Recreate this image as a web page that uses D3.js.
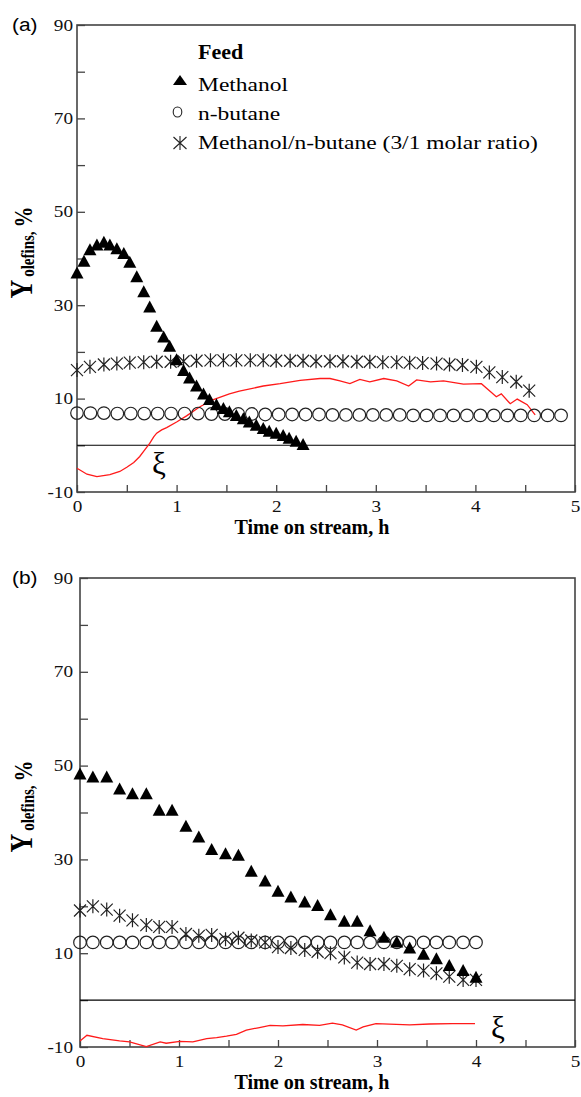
<!DOCTYPE html>
<html>
<head>
<meta charset="utf-8">
<script src="https://cdn.jsdelivr.net/npm/d3@7"></script>
<style>
  body { margin: 0; background: #fff; }
  svg { display: block; background: #fff; }
</style>
</head>
<body>
<svg id="chart" width="581" height="1097"></svg>
<script>
// ---- Panel (a) data ----
const methanolTimeA = [0, 0.07, 0.13, 0.2, 0.27, 0.33, 0.4, 0.47, 0.53, 0.6, 0.67, 0.73, 0.8, 0.87, 0.93, 1.0, 1.07, 1.13, 1.2, 1.27, 1.33, 1.4, 1.47, 1.53, 1.6, 1.67, 1.73, 1.8, 1.87, 1.93, 2.0, 2.07, 2.13, 2.2, 2.27];
const methanolA = [37.0, 39.5, 42.0, 43.0, 43.6, 43.0, 42.2, 41.2, 39.3, 36.2, 33.0, 29.7, 25.6, 23.3, 21.3, 18.4, 16.1, 14.5, 12.8, 11.1, 9.9, 8.8, 8.0, 7.3, 6.5, 5.8, 5.1, 4.4, 3.7, 3.1, 2.7, 2.2, 1.6, 1.0, 0.3];

const butaneTimeA = [0, 0.135, 0.27, 0.405, 0.54, 0.675, 0.81, 0.945, 1.08, 1.215, 1.35, 1.485, 1.62, 1.755, 1.89, 2.025, 2.16, 2.295, 2.43, 2.565, 2.7, 2.835, 2.97, 3.105, 3.24, 3.375, 3.51, 3.645, 3.78, 3.915, 4.05, 4.185, 4.32, 4.455, 4.59, 4.725, 4.86];
const butaneA = [6.9, 6.9, 6.9, 6.8, 6.8, 6.8, 6.8, 6.8, 6.8, 6.8, 6.7, 6.7, 6.7, 6.7, 6.6, 6.6, 6.6, 6.6, 6.6, 6.5, 6.5, 6.5, 6.5, 6.5, 6.5, 6.4, 6.4, 6.4, 6.4, 6.4, 6.4, 6.4, 6.4, 6.4, 6.4, 6.4, 6.4];

const mixTimeA = [0, 0.13, 0.27, 0.4, 0.53, 0.67, 0.8, 0.94, 1.07, 1.2, 1.34, 1.47, 1.6, 1.74, 1.87, 2.0, 2.14, 2.27, 2.4, 2.54, 2.67, 2.81, 2.94, 3.07, 3.21, 3.34, 3.47, 3.61, 3.74, 3.87, 4.01, 4.14, 4.27, 4.41, 4.54];
const mixA = [16.1, 16.8, 17.3, 17.5, 17.7, 17.8, 17.9, 17.9, 18.0, 18.1, 18.2, 18.2, 18.2, 18.2, 18.2, 18.1, 18.1, 18.1, 18.0, 18.0, 18.0, 17.9, 17.9, 17.8, 17.8, 17.7, 17.6, 17.5, 17.3, 17.2, 16.8, 15.6, 14.6, 13.6, 11.7];

const xiTimeA = [0, 0.1, 0.2, 0.33, 0.43, 0.5, 0.57, 0.63, 0.68, 0.73, 0.77, 0.8, 0.85, 0.9, 1.0, 1.1, 1.23, 1.37, 1.53, 1.63, 1.87, 2.04, 2.24, 2.44, 2.54, 2.64, 2.74, 2.84, 2.94, 3.08, 3.21, 3.33, 3.41, 3.55, 3.68, 3.88, 4.06, 4.21, 4.26, 4.35, 4.42, 4.52, 4.6];
const xiA = [-4.9, -6.2, -6.7, -6.3, -5.6, -4.7, -3.7, -2.4, -1.0, 0.4, 1.8, 2.6, 3.3, 3.8, 5.0, 6.3, 8.2, 9.8, 11.0, 11.6, 12.7, 13.2, 13.9, 14.3, 14.3, 13.8, 13.2, 14.1, 13.6, 14.3, 13.8, 12.7, 14.0, 13.6, 13.8, 13.1, 13.2, 10.4, 11.0, 8.9, 9.9, 8.7, 6.5];

// ---- Panel (b) data ----
const timeB = [0, 0.13, 0.27, 0.4, 0.53, 0.67, 0.8, 0.93, 1.07, 1.2, 1.33, 1.47, 1.6, 1.73, 1.87, 2.0, 2.13, 2.27, 2.4, 2.53, 2.67, 2.8, 2.93, 3.07, 3.2, 3.33, 3.47, 3.6, 3.73, 3.87, 4.0];
const methanolB = [48.3, 47.7, 47.7, 45.1, 44.1, 44.1, 40.6, 40.6, 37.2, 34.9, 32.2, 31.3, 31.0, 27.6, 25.5, 23.3, 22.1, 21.0, 20.3, 18.3, 16.9, 16.9, 14.9, 13.5, 12.5, 11.2, 9.9, 8.9, 7.5, 6.4, 5.0];
const butaneB = [12.3, 12.3, 12.3, 12.3, 12.3, 12.3, 12.3, 12.3, 12.3, 12.3, 12.3, 12.3, 12.3, 12.3, 12.3, 12.3, 12.3, 12.3, 12.3, 12.3, 12.3, 12.3, 12.3, 12.3, 12.3, 12.3, 12.3, 12.3, 12.3, 12.3, 12.3];
const mixB = [19.1, 20.0, 19.3, 18.0, 17.0, 16.0, 15.6, 15.6, 14.1, 13.7, 13.9, 13.0, 13.3, 12.7, 12.3, 11.3, 11.1, 10.7, 10.3, 10.0, 9.1, 8.0, 7.7, 7.7, 7.3, 6.6, 6.3, 5.7, 5.0, 4.3, 4.3];

const xiTimeB = [0, 0.07, 0.23, 0.4, 0.5, 0.67, 0.81, 0.87, 1.01, 1.14, 1.28, 1.38, 1.48, 1.58, 1.68, 1.8, 1.92, 2.05, 2.25, 2.42, 2.55, 2.65, 2.79, 2.86, 2.99, 3.33, 3.53, 3.76, 3.99];
const xiB = [-8.7, -7.5, -8.2, -8.7, -8.9, -9.9, -8.9, -9.2, -8.8, -8.9, -8.2, -8.0, -7.7, -7.3, -6.4, -5.9, -5.4, -5.5, -5.2, -5.4, -4.9, -5.3, -6.4, -5.7, -5.0, -5.3, -5.1, -5.0, -5.0];

// ---- axes / legend text ----
const xTicks = [0, 0.5, 1, 1.5, 2, 2.5, 3, 3.5, 4, 4.5, 5];
const yTicks = [-10, 0, 10, 20, 30, 40, 50, 60, 70, 80, 90];
const legendTitle = "Feed";
const legendLabels = ["Methanol", "n-butane", "Methanol/n-butane (3/1 molar ratio)"];

const SERIF = '"Liberation Serif", "Times New Roman", serif';
const SANS = '"Liberation Sans", Arial, sans-serif';
const FRAME = "#444";

const svg = d3.select("#chart");

// marker shapes
const trianglePath = "M0,-7L6.5,5L-6.5,5Z";
const asteriskPath = "M-6,-6L6,6M-6,6L6,-6M0,-7L0,7";

function drawPanel(cfg) {
  const x = d3.scaleLinear().domain([0, 5]).range([cfg.left, cfg.right]);
  const y = d3.scaleLinear().domain([-10, 90]).range([cfg.bottom, cfg.top]);
  const g = svg.append("g");

  // x axis (ticks inward)
  const xAxis = d3.axisBottom(x)
    .tickValues(xTicks)
    .tickSizeInner(-7)
    .tickSizeOuter(0)
    .tickPadding(9)
    .tickFormat(d => (Number.isInteger(d) ? d : ""));
  const gx = g.append("g").attr("transform", `translate(0,${cfg.bottom})`).call(xAxis);
  gx.select(".domain").remove();
  gx.selectAll("line").attr("stroke", FRAME).attr("stroke-width", 1.3);
  gx.selectAll("text")
    .attr("font-family", SERIF)
    .attr("font-size", 16)
    .attr("fill", "#111")
    .attr("transform", "scale(1.2,1)");

  // y axis (ticks inward, every other one labelled)
  const yAxis = d3.axisLeft(y)
    .tickValues(yTicks)
    .tickSizeInner(-8)
    .tickSizeOuter(0)
    .tickFormat(d => ((d + 10) % 20 === 0 ? d : ""));
  const gy = g.append("g").attr("transform", `translate(${cfg.left},0)`).call(yAxis);
  gy.select(".domain").remove();
  gy.selectAll("line").attr("stroke", FRAME).attr("stroke-width", 1.3);
  gy.selectAll("text")
    .attr("font-family", SERIF)
    .attr("font-size", 16)
    .attr("fill", "#111")
    .attr("x", -(cfg.left - 73) / 1.2)
    .attr("transform", "scale(1.2,1)");

  // frame
  g.append("rect")
    .attr("x", cfg.left).attr("y", cfg.top)
    .attr("width", cfg.right - cfg.left).attr("height", cfg.bottom - cfg.top)
    .attr("fill", "none").attr("stroke", FRAME).attr("stroke-width", 1.6);

  // zero line
  g.append("line")
    .attr("x1", cfg.left).attr("x2", cfg.right)
    .attr("y1", y(0)).attr("y2", y(0))
    .attr("stroke", "#000").attr("stroke-width", 1.1);

  // xi curve (red)
  const line = d3.line().x(d => x(d[0])).y(d => y(d[1]));
  g.append("path")
    .datum(d3.zip(cfg.xiTime, cfg.xi))
    .attr("d", line)
    .attr("fill", "none").attr("stroke", "#ff1a1a").attr("stroke-width", 1.3);

  // n-butane: open circles
  g.append("g").selectAll("circle")
    .data(d3.zip(cfg.butaneTime, cfg.butane))
    .join("circle")
    .attr("cx", d => x(d[0])).attr("cy", d => y(d[1]))
    .attr("r", 6.3)
    .attr("fill", "none").attr("stroke", "#222").attr("stroke-width", 1.2);

  // methanol/n-butane: asterisks
  g.append("g").selectAll("path")
    .data(d3.zip(cfg.mixTime, cfg.mix))
    .join("path")
    .attr("d", asteriskPath)
    .attr("transform", d => `translate(${x(d[0])},${y(d[1])})`)
    .attr("fill", "none").attr("stroke", "#222").attr("stroke-width", 1.2);

  // methanol: filled triangles
  g.append("g").selectAll("path")
    .data(d3.zip(cfg.methanolTime, cfg.methanol))
    .join("path")
    .attr("d", trianglePath)
    .attr("transform", d => `translate(${x(d[0])},${y(d[1]) + 1})`)
    .attr("fill", "#000");

  // xi label
  g.append("text")
    .attr("x", cfg.xiLabel[0]).attr("y", cfg.xiLabel[1])
    .attr("text-anchor", "middle")
    .attr("font-family", SERIF).attr("font-size", 31)
    .text("ξ");

  // panel letter
  g.append("text")
    .attr("transform", `translate(12,${cfg.top + 6}) scale(1.1,1)`)
    .attr("font-family", SANS).attr("font-size", 19)
    .text(cfg.letter);

  // x title
  g.append("text")
    .attr("x", 312).attr("y", cfg.bottom + 42)
    .attr("text-anchor", "middle")
    .attr("font-family", SERIF).attr("font-size", 20).attr("font-weight", "bold")
    .text("Time on stream, h");

  // y title: Y with subscript "olefins", then %
  const yt = g.append("text")
    .attr("transform", `translate(32,${(cfg.top + cfg.bottom) / 2 - 6}) rotate(-90) scale(1,1.2)`)
    .attr("text-anchor", "middle")
    .attr("font-family", SERIF).attr("font-weight", "bold");
  yt.append("tspan").attr("font-size", 26).text("Y");
  yt.append("tspan").attr("font-size", 15).attr("dx", 3).attr("dy", 2).text("olefins,");
  yt.append("tspan").attr("font-size", 21).attr("dx", 4).attr("dy", -2).text("%");

  return { x, y };
}

drawPanel({
  left: 77, right: 575, top: 25, bottom: 492, letter: "(a)",
  methanolTime: methanolTimeA, methanol: methanolA,
  butaneTime: butaneTimeA, butane: butaneA,
  mixTime: mixTimeA, mix: mixA,
  xiTime: xiTimeA, xi: xiA,
  xiLabel: [159, 474]
});

drawPanel({
  left: 80, right: 575, top: 578, bottom: 1047, letter: "(b)",
  methanolTime: timeB, methanol: methanolB,
  butaneTime: timeB, butane: butaneB,
  mixTime: timeB, mix: mixB,
  xiTime: xiTimeB, xi: xiB,
  xiLabel: [498, 1038]
});

// legend (panel a only)
const legend = svg.append("g");
legend.append("text")
  .attr("transform", "translate(198,59) scale(1.05,1)")
  .attr("font-family", SERIF).attr("font-size", 21).attr("font-weight", "bold")
  .text(legendTitle);

const rowY = [91, 120, 149];
legendLabels.forEach((lab, i) => {
  legend.append("text")
    .attr("transform", `translate(198,${rowY[i]}) scale(1.25,1)`)
    .attr("font-family", SERIF).attr("font-size", 18.8)
    .text(lab);
});
legend.append("path").attr("d", "M0,-5L7,5L-7,5Z")
  .attr("transform", `translate(180,${rowY[0] - 11})`).attr("fill", "#000");
legend.append("ellipse")
  .attr("cx", 177.5).attr("cy", rowY[1] - 8).attr("rx", 4.3).attr("ry", 5)
  .attr("fill", "none").attr("stroke", "#222").attr("stroke-width", 1.1);
legend.append("path").attr("d", "M-6.5,-6L6.5,6M-6.5,6L6.5,-6M0,-7L0,7")
  .attr("transform", `translate(180,${rowY[2] - 6})`)
  .attr("fill", "none").attr("stroke", "#222").attr("stroke-width", 1.1);
</script>
</body>
</html>
